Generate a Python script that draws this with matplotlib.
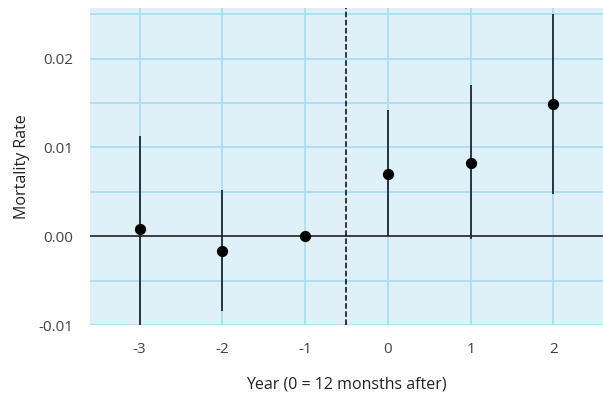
import numpy as np
import matplotlib.pyplot as plt
from matplotlib.ticker import MultipleLocator

plt.rcParams['font.family'] = ['Open Sans', 'DejaVu Sans']
plt.rcParams['axes.unicode_minus'] = False

years = [-3, -2, -1, 0, 1, 2]
estimate = [0.0008, -0.0017, 0.0, 0.0070, 0.0083, 0.0149]
ci_low = [-0.0105, -0.0084, 0.0, 0.0000, -0.0003, 0.0048]
ci_high = [0.0113, 0.0052, 0.0, 0.0142, 0.0170, 0.0250]
ytick_vals = [-0.01, 0.0, 0.01, 0.02]
ytick_labels = ['-0.01', '0.00', '0.01', '0.02']

fig = plt.figure(figsize=(6.03, 3.97), dpi=100)
ax = fig.add_axes([0.149, 0.181, 0.851, 0.799])
ax.set_facecolor('#dff0f8')

ax.yaxis.set_minor_locator(MultipleLocator(0.005))
ax.set_xticks(years)
ax.set_yticks(ytick_vals)
ax.set_yticklabels(ytick_labels)
ax.grid(True, which='both', color='#a6dcf3', linewidth=1.2)
ax.set_axisbelow(True)

ax.axhline(0, color='#333333', linewidth=1.3, zorder=2)
ax.axvline(-0.5, color='black', linestyle='--', linewidth=1.1, zorder=2)

ax.vlines(years, ci_low, ci_high, color='#1c2a33', linewidth=1.3, zorder=3)
ax.scatter(years, estimate, color='black', s=50, zorder=4)

ax.set_xlim(-3.6, 2.6)
ax.set_ylim(-0.01, 0.0257)

for s in ax.spines.values():
    s.set_visible(False)
ax.tick_params(which='both', length=0, labelsize=11, colors='#444444', pad=12)

ax.set_ylabel('Mortality Rate', fontsize=11.5, color='#222222', labelpad=6)
ax.set_xlabel('Year (0 = 12 monsths after)', fontsize=11.5, color='#222222', labelpad=14)

fig.savefig('out.png', dpi=100)
